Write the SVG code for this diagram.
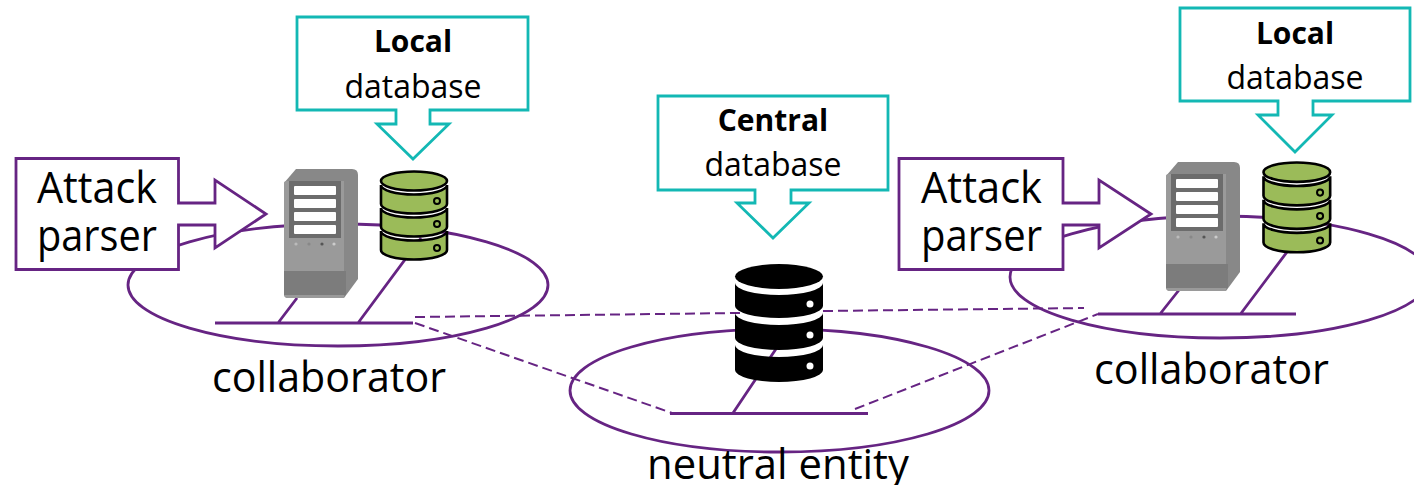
<svg xmlns="http://www.w3.org/2000/svg" width="1414" height="485" viewBox="0 0 1414 485">
<style>
text{font-family:"Open Sans","Noto Sans","Liberation Sans",sans-serif;fill:#000}
.c{text-anchor:middle}
.db{font-size:32px}
.b{font-size:30px;font-weight:700}
.big{font-size:41.500px}
.ap{font-size:43px}
.ln{fill:none;stroke:#662483;stroke-width:2.8}
.da{fill:none;stroke:#662483;stroke-width:2;stroke-dasharray:10 5}
.pu{fill:#fff;stroke:#662483;stroke-width:2.8}
.te{fill:#fff;stroke:#13b8b4;stroke-width:2.8}
.t{fill:#9bbb59;stroke:#000;stroke-width:2.6}
.dot{fill:#9bbb59;stroke:#000;stroke-width:2}
</style>
<defs>
<g id="cyl">
<path class="t" d="M0,60 A33,9.5 0 0 0 66,60 V79 A33,9.5 0 0 1 0,79Z"/>
<path class="t" d="M0,37 A33,9.5 0 0 0 66,37 V56 A33,9.5 0 0 1 0,56Z"/>
<path class="t" d="M0,14 A33,9.5 0 0 0 66,14 V33 A33,9.5 0 0 1 0,33Z"/>
<ellipse class="t" cx="33" cy="10" rx="33" ry="9.5"/>
<circle class="dot" cx="56" cy="30" r="3"/><circle class="dot" cx="56" cy="53" r="3"/><circle class="dot" cx="56" cy="77" r="3"/>
</g>
<g id="srv">
<path d="M0,14 L12,0 H68 Q74,0 74,6 V110 L60,129 H4 Q0,129 0,125Z" fill="#888"/>
<path d="M0,14 Q0,12 3,12 H60 V129 H4 Q0,129 0,125Z" fill="#9a9a9a"/>
<rect x="0" y="102" width="62" height="24" fill="#7c7c7c"/>
<rect x="5" y="12" width="52" height="57" fill="#6c6c6c"/>
<g fill="#fff"><rect x="10" y="17" width="42" height="9" rx="1"/><rect x="10" y="30" width="42" height="9" rx="1"/><rect x="10" y="43" width="42" height="9" rx="1"/><rect x="10" y="56" width="42" height="9" rx="1"/></g>
<circle cx="12" cy="75" r="1.6" fill="#bbb"/><circle cx="25" cy="75" r="1.6" fill="#888"/><circle cx="38" cy="75" r="1.6" fill="#555"/><circle cx="50" cy="75" r="1.6" fill="#ccc"/>
</g>
</defs>
<g id="connectors">
<path class="da" d="M415,317 L740,313 M823,311 L1084,308 M415,323 L672,413 M855,409 L1098,314"/>
<path class="ln" d="M215,323 H413 M278,323 L297,298 M358,323 L421,238"/>
<path class="ln" d="M670,413.500 H868 M733,413 L782,340"/>
<path class="ln" d="M1098,314 H1296 M1160,314 L1179,290 M1240.500,314 L1302,232"/>
</g>
<g id="collaborator-left">
<ellipse class="ln" cx="338" cy="285" rx="210" ry="61"/>
<text class="big" x="212" y="392" textLength="234" lengthAdjust="spacingAndGlyphs">collaborator</text>
</g>
<g id="neutral-entity">
<ellipse class="ln" cx="779.500" cy="390.500" rx="209.500" ry="61.500"/>
<text class="big" x="647" y="479" textLength="262" lengthAdjust="spacingAndGlyphs">neutral entity</text>
</g>
<g id="collaborator-right">
<ellipse class="ln" cx="1220" cy="277" rx="210" ry="61"/>
<text class="big" x="1094" y="384" textLength="235" lengthAdjust="spacingAndGlyphs">collaborator</text>
</g>
<g id="server-left"><use href="#srv" x="284" y="169"/></g>
<g id="db-left"><use href="#cyl" x="381" y="171"/></g>
<g id="server-right"><use href="#srv" x="1166" y="162"/></g>
<g id="db-right"><use href="#cyl" transform="translate(1263.500,162) scale(1.01,1.02)"/></g>
<g id="db-central">
<path d="M735,345 A44,12 0 0 0 823,345 V370 A44,12 0 0 1 735,370Z"/>
<path d="M735,313 A44,12 0 0 0 823,313 V338 A44,12 0 0 1 735,338Z"/>
<path d="M735,283 A44,12 0 0 0 823,283 V306 A44,12 0 0 1 735,306Z"/>
<ellipse cx="779" cy="276.500" rx="44" ry="12.500"/>
<g fill="#fff"><circle cx="810" cy="304" r="3.500"/><circle cx="810" cy="335" r="3.500"/><circle cx="810" cy="366" r="3.500"/></g>
</g>
<g id="attack-left">
<path class="pu" d="M16,158.500 H178.500 V203 H215 V180 L266,214 L215,248 V225 H178.500 V269.500 H16Z"/>
<text class="ap" x="37" y="203" textLength="120" lengthAdjust="spacingAndGlyphs">Attack</text><text class="ap" x="37" y="251" textLength="120" lengthAdjust="spacingAndGlyphs">parser</text>
</g>
<g id="attack-right">
<path class="pu" d="M899,158.500 H1063 V203 H1099 V180 L1151,214 L1099,248 V225 H1063 V269.500 H899Z"/>
<text class="ap" x="921" y="203" textLength="121" lengthAdjust="spacingAndGlyphs">Attack</text><text class="ap" x="921" y="251" textLength="121" lengthAdjust="spacingAndGlyphs">parser</text>
</g>
<g id="local-left">
<path class="te" d="M297,17 H528 V110 H430 V124 H449 L413,159 L377,124 H396 V110 H297Z"/>
<text class="b c" x="413" y="52">Local</text><text class="db c" x="413" y="98">database</text>
</g>
<g id="central">
<path class="te" d="M658,96 H888 V190 H791 V203 H809 L773,238 L737,203 H755 V190 H658Z"/>
<text class="b c" x="773" y="131">Central</text><text class="db c" x="773" y="176">database</text>
</g>
<g id="local-right">
<path class="te" d="M1180,8 H1410 V101 H1313 V115 H1332 L1295,152 L1258,115 H1278 V101 H1180Z"/>
<text class="b c" x="1295" y="44">Local</text><text class="db c" x="1295" y="89">database</text>
</g>
</svg>
